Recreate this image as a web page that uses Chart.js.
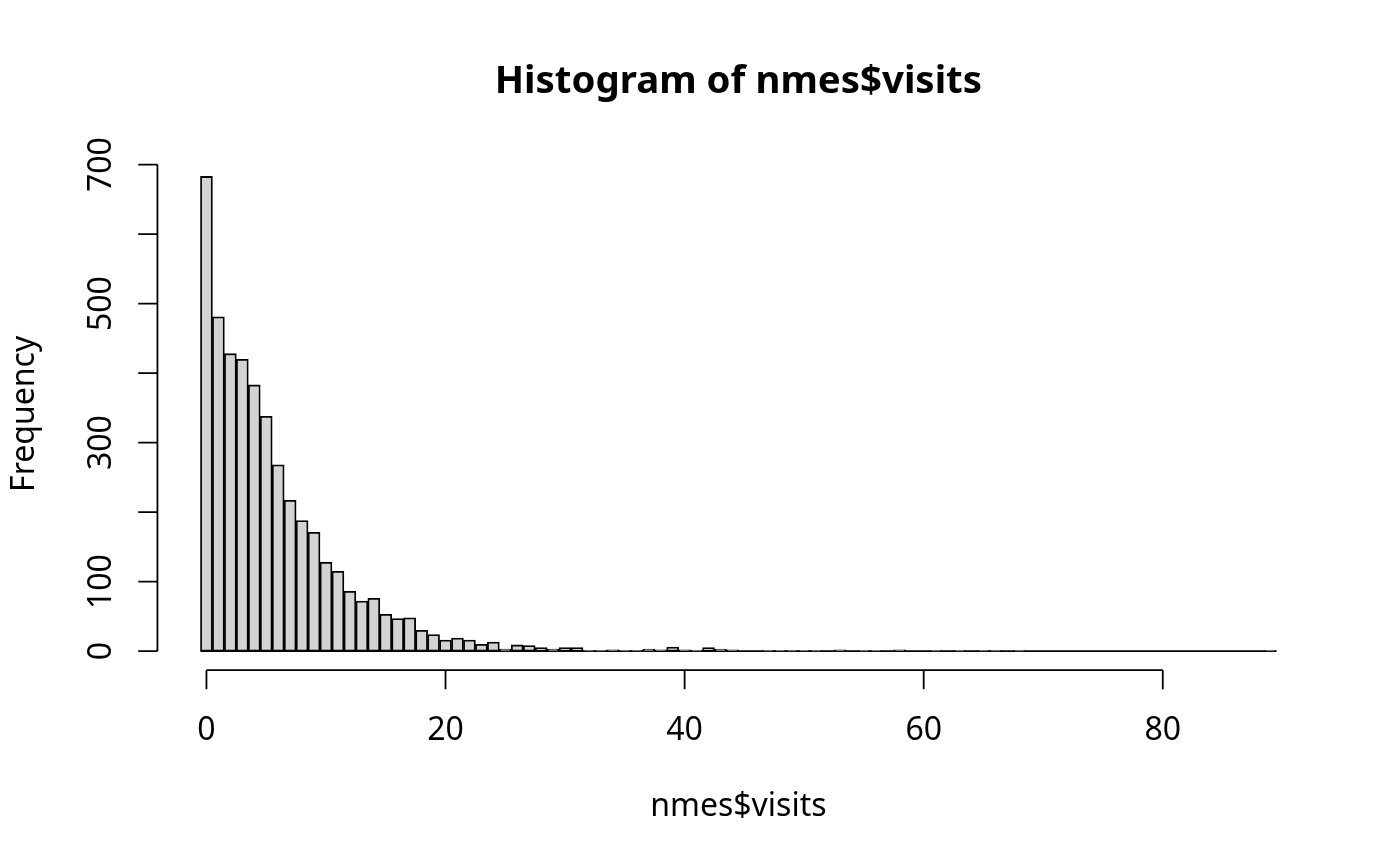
<!DOCTYPE html>
<html lang="en">
<head>
    <meta charset="UTF-8">
    <title>Histogram of nmes$visits</title>
    <style>
      html, body { margin: 0; padding: 0; background: #ffffff; }
      canvas { display: block; }
    </style>
</head>
<body>
<canvas id="histChart" width="1400" height="866"></canvas>

<script src="https://cdn.jsdelivr.net/npm/chart.js@4.4.1/dist/chart.umd.min.js"></script>

<script>
  // one bin per visit count, 0 .. 89
  const binMids = Array.from({ length: 90 }, (_, i) => i);
  const counts = [
    683, 481, 428, 420, 383, 338, 268, 217, 188, 171,
    128, 115, 86, 72, 76, 53, 47, 48, 30, 24,
    16, 19, 16, 10, 13, 3, 9, 8, 5, 3,
    5, 5, 1, 1, 2, 1, 1, 3, 2, 6,
    2, 1, 5, 3, 2, 0, 0, 1, 1, 1,
    1, 1, 0, 2, 0, 1, 1, 0, 2, 0,
    0, 1, 0, 1, 0, 1, 1, 0, 1, 0,
    0, 0, 0, 0, 0, 0, 0, 0, 0, 0,
    0, 0, 0, 0, 0, 0, 0, 0, 0, 1
  ];
  const xTicks = [0, 20, 40, 60, 80];
  const yTicks = [0, 100, 200, 300, 400, 500, 600, 700];
  const yTickLabels = [0, 100, 300, 500, 700];

  const TITLE = 'Histogram of nmes$visits';
  const XLAB = 'nmes$visits';
  const YLAB = 'Frequency';

  const FONT = '"Noto Sans", "Open Sans", "DejaVu Sans", sans-serif';
  const LINE = 38.4;      // one R margin line at this resolution
  const LWD = 1.8;

  // R-style axis ranges: data range extended by 4% each side
  const binWidth = 1;
  const xLo = binMids[0] - binWidth / 2;
  const xHi = binMids[binMids.length - 1] + binWidth / 2;
  const yHi = Math.max(...counts);
  const xPad = (xHi - xLo) * 0.04;
  const yPad = yHi * 0.04;

  const rAxes = {
    id: 'rAxes',
    afterDraw(chart) {
      const ctx = chart.ctx;
      const xs = chart.scales.x;
      const ys = chart.scales.y;
      const area = chart.chartArea;
      const tick = LINE * 0.5;

      ctx.save();
      ctx.strokeStyle = '#000';
      ctx.fillStyle = '#000';
      ctx.lineWidth = LWD;
      ctx.lineCap = 'butt';

      // x axis
      const xAxisY = area.bottom;
      ctx.beginPath();
      ctx.moveTo(xs.getPixelForValue(xTicks[0]), xAxisY);
      ctx.lineTo(xs.getPixelForValue(xTicks[xTicks.length - 1]), xAxisY);
      xTicks.forEach(v => {
        const px = xs.getPixelForValue(v);
        ctx.moveTo(px, xAxisY);
        ctx.lineTo(px, xAxisY + tick);
      });
      ctx.stroke();

      ctx.font = '32px ' + FONT;
      ctx.textAlign = 'center';
      ctx.textBaseline = 'alphabetic';
      xTicks.forEach(v => {
        ctx.fillText(String(v), xs.getPixelForValue(v), 740);
      });

      // y axis
      const yAxisX = area.left;
      ctx.beginPath();
      ctx.moveTo(yAxisX, ys.getPixelForValue(yTicks[0]));
      ctx.lineTo(yAxisX, ys.getPixelForValue(yTicks[yTicks.length - 1]));
      yTicks.forEach(v => {
        const py = ys.getPixelForValue(v);
        ctx.moveTo(yAxisX, py);
        ctx.lineTo(yAxisX - tick, py);
      });
      ctx.stroke();

      yTickLabels.forEach(v => {
        ctx.save();
        ctx.translate(111, ys.getPixelForValue(v));
        ctx.rotate(-Math.PI / 2);
        ctx.fillText(String(v), 0, 0);
        ctx.restore();
      });

      // axis titles
      const midX = (area.left + area.right) / 2;
      const midY = (area.top + area.bottom) / 2;
      ctx.fillText(XLAB, midX, 816);
      ctx.save();
      ctx.translate(34, midY);
      ctx.rotate(-Math.PI / 2);
      ctx.fillText(YLAB, 0, 0);
      ctx.restore();

      // main title
      ctx.font = 'bold 38.4px ' + FONT;
      ctx.fillText(TITLE, midX, 93);
      ctx.restore();
    }
  };

  const config = {
    type: 'bar',
    data: {
      datasets: [
        {
          type: 'line',
          label: 'baseline',
          data: [{ x: xLo, y: 0 }, { x: xHi, y: 0 }],
          borderColor: '#000',
          borderWidth: LWD,
          pointRadius: 0,
          order: 2
        },
        {
          label: 'counts',
          data: binMids.map((m, i) => ({ x: m, y: counts[i] })),
          backgroundColor: '#d3d3d3',
          borderColor: '#000',
          borderWidth: LWD,
          borderSkipped: false,
          barPercentage: 1,
          categoryPercentage: 1,
          order: 1
        }
      ]
    },
    options: {
      responsive: false,
      animation: false,
      devicePixelRatio: 1,
      layout: {
        padding: { left: 4.1 * LINE, right: 2.1 * LINE, top: 4.1 * LINE, bottom: 5.1 * LINE }
      },
      plugins: {
        legend: { display: false },
        title: { display: false },
        tooltip: { enabled: false }
      },
      scales: {
        x: {
          type: 'linear',
          display: false,
          offset: false,
          bounds: 'ticks',
          grace: 0,
          min: xLo - xPad,
          max: xHi + xPad
        },
        y: {
          type: 'linear',
          display: false,
          offset: false,
          grace: 0,
          min: -yPad,
          max: yHi + yPad
        }
      }
    },
    plugins: [rAxes]
  };

  new Chart(document.getElementById('histChart'), config);
</script>
</body>
</html>
